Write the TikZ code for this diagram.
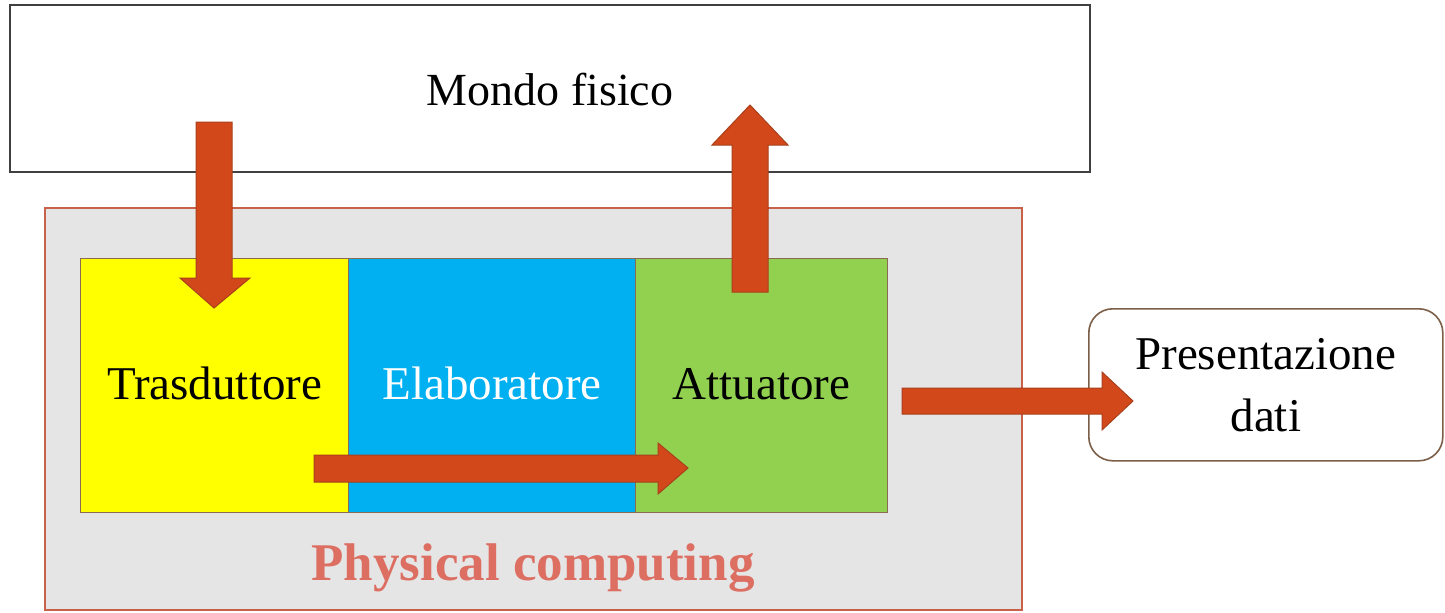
\documentclass[tikz,border=0pt]{standalone}
\usepackage{fontspec}
\setmainfont{Liberation Serif}
\definecolor{arrowfill}{HTML}{D3481A}
\definecolor{arrowdraw}{HTML}{A8401C}
\definecolor{pcgray}{HTML}{E6E5E6}
\definecolor{pcborder}{HTML}{C8604A}
\definecolor{pctext}{HTML}{DC6E62}
\definecolor{ybox}{HTML}{FFFF00}
\definecolor{bbox}{HTML}{00B0F0}
\definecolor{gbox}{HTML}{92D050}
\definecolor{boxedge}{HTML}{8A6A50}
\tikzset{
  blockarrow/.style={fill=arrowfill,draw=arrowdraw,line width=0.5pt,line join=miter},
  inner box/.style={draw=boxedge,line width=0.6pt,minimum height=127pt,inner sep=0pt,font=\fontsize{23.5}{26}\selectfont},
  lbl/.style={font=\fontsize{23}{26}\selectfont,inner sep=0pt}
}
\begin{document}
\begin{tikzpicture}[x=0.5pt,y=-0.5pt]
\useasboundingbox (0,0) rectangle (1445,612);
% Mondo fisico
\draw[draw=black!75,line width=1pt,fill=white] (10,5) rectangle (1090,172);
\node[lbl] (mondo) at (550,90) {Mondo fisico};
% Physical computing
\draw[draw=pcborder,line width=0.7pt,fill=pcgray] (45,208) rectangle (1022,610);
\node[font=\bfseries\fontsize{26.5}{30}\selectfont,text=pctext,inner sep=0pt] (pc) at (533,568) {Physical computing};
% inner boxes
\node[inner box,fill=ybox,minimum width=134pt,anchor=north west] (tras) at (80,258) {\raisebox{2pt}{Trasduttore}};
\node[inner box,fill=bbox,minimum width=143.5pt,anchor=north west,text=white] (elab) at (348,258) {\raisebox{2pt}{Elaboratore}};
\node[inner box,fill=gbox,minimum width=126pt,anchor=north west] (attu) at (635,258) {\raisebox{2pt}{Attuatore}};
% Presentazione dati
\node[draw=boxedge!90!black,line width=0.8pt,rounded corners=12pt,fill=white,minimum width=177pt,minimum height=76pt,anchor=north west,align=center,font=\fontsize{23.5}{31}\selectfont] (pres) at (1088,308) {Presentazione\\dati};
% arrows
\draw[blockarrow] (196,122) -- (232,122) -- (232,278) -- (250,278) -- (214,308) -- (180,278) -- (196,278) -- cycle;
\draw[blockarrow] (732,292) -- (768,292) -- (768,145) -- (788,145) -- (750,105) -- (712,145) -- (732,145) -- cycle;
\draw[blockarrow] (314,455) -- (658,455) -- (658,443) -- (688,468) -- (658,494) -- (658,482) -- (314,482) -- cycle;
\draw[blockarrow] (902,388) -- (1102,388) -- (1102,372) -- (1133,401) -- (1102,430) -- (1102,414) -- (902,414) -- cycle;
\end{tikzpicture}
\end{document}
